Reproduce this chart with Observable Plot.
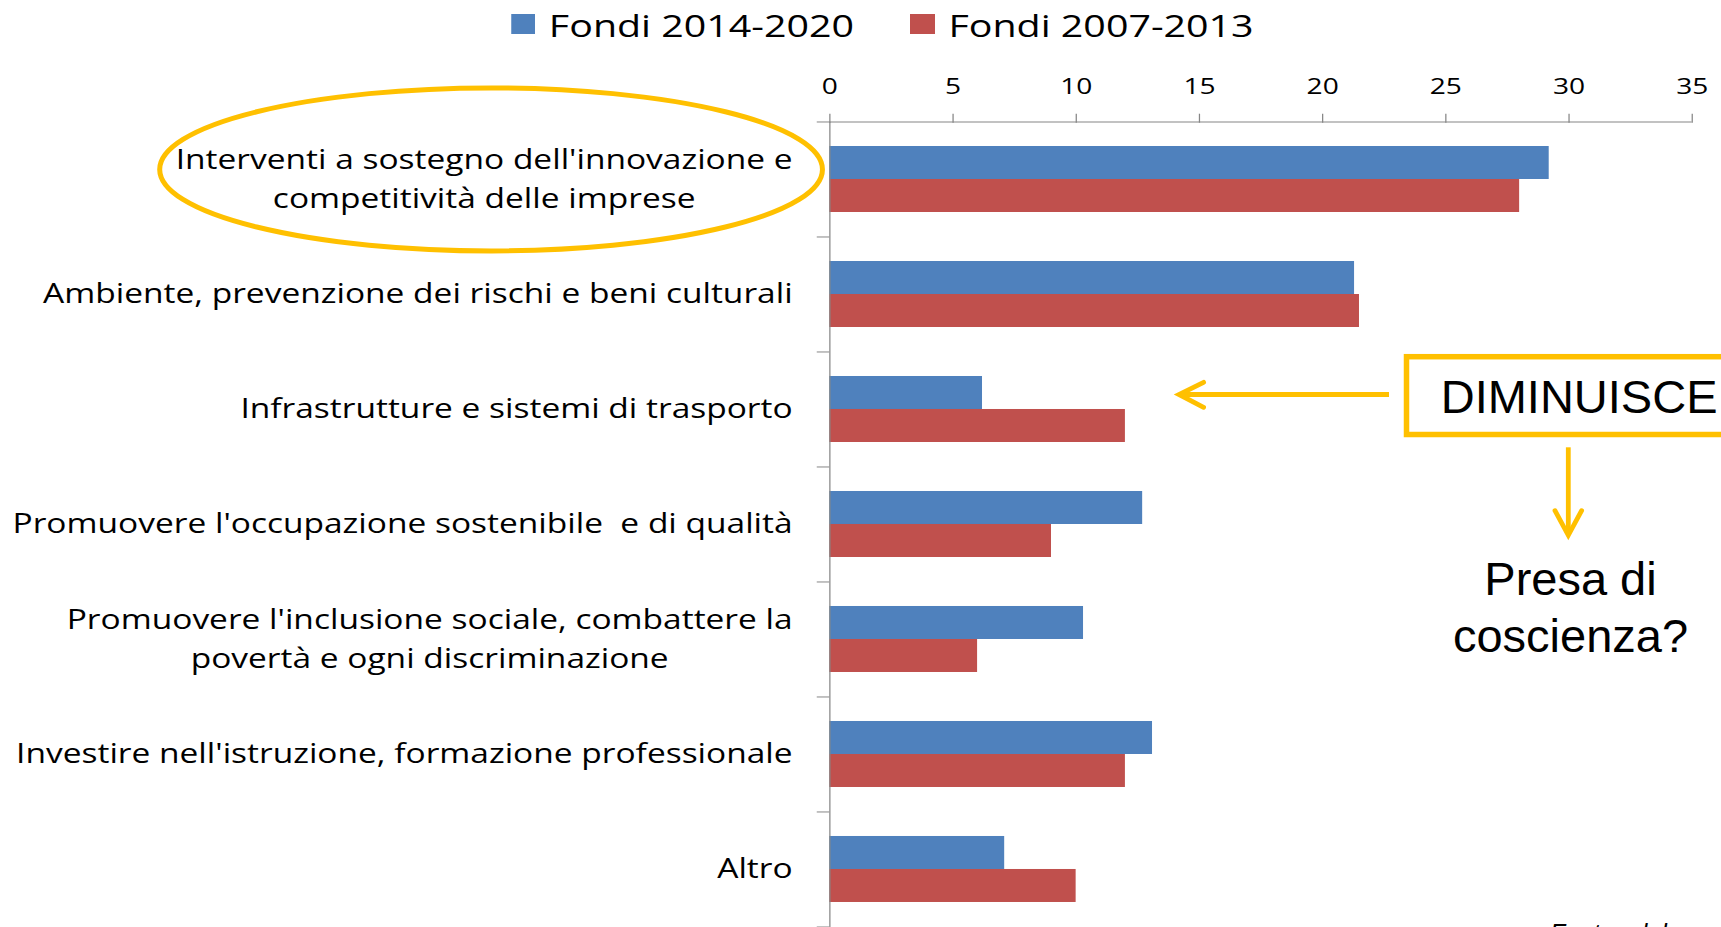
<!DOCTYPE html>
<html>
<head>
<meta charset="utf-8">
<script src="https://cdn.jsdelivr.net/npm/d3@7"></script>
<script src="https://cdn.jsdelivr.net/npm/@observablehq/plot@0.6"></script>
<style>
  html, body { margin: 0; padding: 0; background: #fff; overflow: hidden; width: 1721px; height: 927px; }
  #stage { position: relative; width: 1721px; height: 927px; overflow: hidden; background: #fff; }
  #chart { position: absolute; left: 0; top: 0; width: 1376.8px; transform: scaleX(1.25); transform-origin: 0 0; }
  #legend { height: 48px; display: flex; align-items: center; padding-left: 408.6px; font-family: "Open Sans", sans-serif; font-size: 31.5px; color: #000; }
  .item { display: flex; align-items: center; }
  .sw { width: 19.5px; height: 20.3px; margin-right: 11px; }
  #overlay { position: absolute; left: 0; top: 0; }
</style>
</head>
<body>
<div id="stage">
  <div id="chart"><div id="legend"></div></div>
</div>
<script>
// ---------------- data ----------------
const categories = [
  "Interventi a sostegno dell'innovazione e\ncompetitività delle imprese",
  "Ambiente, prevenzione dei rischi e beni culturali",
  "Infrastrutture e sistemi di trasporto",
  "Promuovere l'occupazione sostenibile  e di qualità",
  "Promuovere l'inclusione sociale, combattere la\npovertà e ogni discriminazione",
  "Investire nell'istruzione, formazione professionale",
  "Altro"
];
const fondi20142020 = [29.2, 21.3, 6.2, 12.7, 10.3, 13.1, 7.1];
const fondi20072013 = [28.0, 21.5, 12.0, 9.0, 6.0, 12.0, 10.0];
const seriesNames = ["Fondi 2014-2020", "Fondi 2007-2013"];
const seriesColors = ["#4F81BD", "#C0504D"];
const xTicks = [0, 5, 10, 15, 20, 25, 30, 35];
const xDomain = [0, 35];

// ---------------- layout ----------------
const S = 1.25;                 // horizontal stretch of the pasted chart
const W = 1721 / S;
const legendH = 48;
const H = 927 - legendH;
const marginTop = 73.7, marginBottom = 0, marginLeft = 663.4, marginRight = 23.5;
const n = categories.length;
const step = (H - marginTop - marginBottom) / n;
const groupH = 66;
const pIn = 1 - groupH / step;
const bw = step * (1 - pIn);
const axisGray = "#868686";

// legend
const legend = document.getElementById("legend");
seriesNames.forEach((s, i) => {
  const it = document.createElement("div");
  it.className = "item";
  if (i > 0) it.style.marginLeft = "45px";
  const sw = document.createElement("div");
  sw.className = "sw";
  sw.style.background = seriesColors[i];
  const tx = document.createElement("span");
  tx.textContent = s;
  it.appendChild(sw); it.appendChild(tx);
  legend.appendChild(it);
});

const data = categories.flatMap((c, i) => [
  {cat: c, series: seriesNames[0], value: fondi20142020[i]},
  {cat: c, series: seriesNames[1], value: fondi20072013[i]}
]);

const chart = Plot.plot({
  width: W, height: H, marginTop, marginBottom, marginLeft, marginRight,
  style: {fontFamily: '"Open Sans", sans-serif', background: "white", color: "#000", overflow: "visible"},
  x: {domain: xDomain},
  y: {domain: categories, paddingInner: pIn, paddingOuter: pIn / 2},
  color: {domain: seriesNames, range: seriesColors},
  marks: [
    Plot.barX(data.filter(d => d.series === seriesNames[0]), {x: "value", y: "cat", fill: "series", insetBottom: bw / 2}),
    Plot.barX(data.filter(d => d.series === seriesNames[1]), {x: "value", y: "cat", fill: "series", insetTop: bw / 2}),
    Plot.ruleX([0], {stroke: axisGray}),
    Plot.ruleY([categories[0]], {x1: xDomain[0], x2: xDomain[1], dy: -step / 2, stroke: axisGray}),
    Plot.axisX({anchor: "top", ticks: xTicks, tickSize: 9, tickPadding: 19, fontSize: 22.5, stroke: axisGray, fill: "#000", label: null}),
    Plot.axisY({ticks: categories, tickSize: 10, tickFormat: () => "", dy: -step / 2, stroke: axisGray, label: null}),
    Plot.axisY({ticks: [categories[n - 1]], tickSize: 10, tickFormat: () => "", dy: step / 2, stroke: axisGray, label: null}),
    Plot.axisY({tickSize: 0, tickPadding: 29.8, fontSize: 26.8, lineHeight: 1.44, dy: -3.5, fill: "#000", label: null})
  ]
});
document.getElementById("chart").appendChild(chart);

// centre multi-line category labels, keep block right-aligned
const flat = new Map(categories.map(c => [c.replace(/\n/g, ""), c]));
const labelEls = new Map();
chart.querySelectorAll("text").forEach(t => {
  const key = t.textContent;
  if (flat.has(key)) {
    t.style.whiteSpace = "pre";
    const w = t.getBBox().width;
    t.setAttribute("text-anchor", "middle");
    t.setAttribute("transform", (t.getAttribute("transform") || "") + ` translate(${-w / 2},0)`);
    labelEls.set(flat.get(key), t);
  }
});

// ---------------- annotations ----------------
const xs = chart.scale("x"), ys = chart.scale("y");
const xFull = v => S * xs.apply(v);
const yFull = c => legendH + ys.apply(c);
const gold = "#FFC000";
const ov = d3.select("#stage").append("svg").attr("id", "overlay").attr("width", 1721).attr("height", 927);

// ellipse around first category label
const lab0 = labelEls.get(categories[0]).getBoundingClientRect();
const ex1 = lab0.left - 16, ex2 = xFull(0) - 6.8;
ov.append("ellipse")
  .attr("cx", (ex1 + ex2) / 2).attr("cy", yFull(categories[0]) + bw / 2 - 9.6)
  .attr("rx", (ex2 - ex1) / 2).attr("ry", 81.5)
  .attr("fill", "none").attr("stroke", gold).attr("stroke-width", 5);

// horizontal arrow pointing at transport category
const ay = yFull(categories[2]) + bw / 4 + 2;
const tipX = 1179, tailX = 1389;
ov.append("line").attr("x1", tailX).attr("x2", tipX + 2).attr("y1", ay).attr("y2", ay)
  .attr("stroke", gold).attr("stroke-width", 4.8);
ov.append("path").attr("d", `M${tipX + 24.6},${ay - 12.2} L${tipX},${ay} L${tipX + 24.6},${ay + 12.8}`)
  .attr("fill", "none").attr("stroke", gold).attr("stroke-width", 4.8)
  .attr("stroke-linecap", "round").attr("stroke-linejoin", "miter");

// DIMINUISCE box
ov.append("rect").attr("x", 1406.5).attr("y", 356.7).attr("width", 420).attr("height", 77.8)
  .attr("fill", "none").attr("stroke", gold).attr("stroke-width", 5.5);
ov.append("text").attr("x", 1440.7).attr("y", 413.3)
  .attr("font-family", '"Liberation Sans", Arial, sans-serif').attr("font-size", 47).attr("fill", "#000")
  .text("DIMINUISCE");

// down arrow
const dx0 = 1568.3;
ov.append("line").attr("x1", dx0).attr("x2", dx0).attr("y1", 447.3).attr("y2", 534)
  .attr("stroke", gold).attr("stroke-width", 4.8);
ov.append("path").attr("d", `M${dx0 - 13.3},${510.7} L${dx0},${535.3} L${dx0 + 13.3},${510.7}`)
  .attr("fill", "none").attr("stroke", gold).attr("stroke-width", 4.8)
  .attr("stroke-linecap", "round");

const q = ov.append("text").attr("text-anchor", "middle")
  .attr("font-family", '"Liberation Sans", Arial, sans-serif').attr("font-size", 47).attr("fill", "#000");
q.append("tspan").attr("x", 1570.5).attr("y", 595).text("Presa di");
q.append("tspan").attr("x", 1570.5).attr("y", 651.7).text("coscienza?");

// source note (cut off by the slide edge, as in the original slide)
ov.append("text").attr("x", 1550).attr("y", 942)
  .attr("font-family", '"Liberation Sans", Arial, sans-serif').attr("font-style", "italic")
  .attr("font-size", 25).attr("fill", "#000").text("Fonte: elaborazione");
</script>
</body>
</html>
